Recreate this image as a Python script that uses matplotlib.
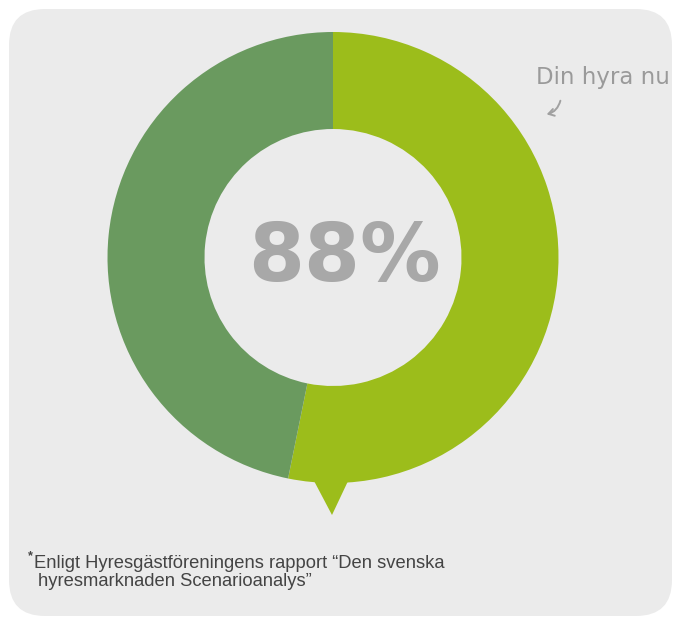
import numpy as np
import matplotlib.pyplot as plt
from matplotlib.patches import FancyBboxPatch, Polygon

# data
labels = ["Din hyra nu", "Scenario"]
values = [100, 88]
colors = ["#9cbd1b", "#6a9a5f"]
center_text = "88%"
note_line1 = "Enligt Hyresgästföreningens rapport \u201cDen svenska"
note_line2 = "hyresmarknaden Scenarioanalys\u201d"

W, H = 674, 620
fig = plt.figure(figsize=(W / 100, H / 100), dpi=100)
fig.patch.set_facecolor("white")
ax = fig.add_axes([0, 0, 1, 1])

# grey rounded panel
panel = FancyBboxPatch((9, H - 616), 663, 607, boxstyle="round,pad=0,rounding_size=36",
                       facecolor="#ebebeb", edgecolor="none", zorder=0)
ax.add_patch(panel)

cx, cy = 333, H - 257.5
r_out, ring_w = 225.5, 97

wedges, _ = ax.pie(values, colors=colors, startangle=90, counterclock=False,
                   center=(cx, cy), radius=r_out,
                   wedgeprops=dict(width=ring_w, edgecolor="none"))
for w in wedges:
    w.set_zorder(2)

# pointer under the ring
tri = Polygon([(cx - 20, cy - r_out + 4), (cx + 16, cy - r_out + 4), (cx - 1, cy - r_out - 32)],
              closed=True, facecolor=colors[0], edgecolor="none", zorder=2)
ax.add_patch(tri)

ax.text(cx + 11, cy - 2, center_text, ha="center", va="center", fontsize=58,
        fontweight="bold", color="#a8a8a8", family="DejaVu Sans", zorder=3)

ax.text(536, H - 84, labels[0], ha="left", va="baseline", fontsize=16.5,
        color="#9a9a9a", family="DejaVu Sans", zorder=3)
ax.annotate("", xy=(544, H - 115), xytext=(561, H - 98),
            arrowprops=dict(arrowstyle="->,head_length=0.4,head_width=0.25", color="#a0a0a0", lw=1.4,
                            connectionstyle="arc3,rad=-0.35"), zorder=3)

nf = ["Liberation Sans", "DejaVu Sans"]
ax.text(28, H - 559, "*", ha="left", va="baseline", fontsize=9, fontweight="bold",
        color="#444444", family=nf)
ax.text(34, H - 568, note_line1, ha="left", va="baseline", fontsize=13.2,
        color="#444444", family=nf)
ax.text(38, H - 586, note_line2, ha="left", va="baseline", fontsize=13.2,
        color="#444444", family=nf)

ax.set_xlim(0, W)
ax.set_ylim(0, H)
ax.set_aspect("auto")
ax.axis("off")
fig.savefig("out.png", dpi=100, facecolor="white")
